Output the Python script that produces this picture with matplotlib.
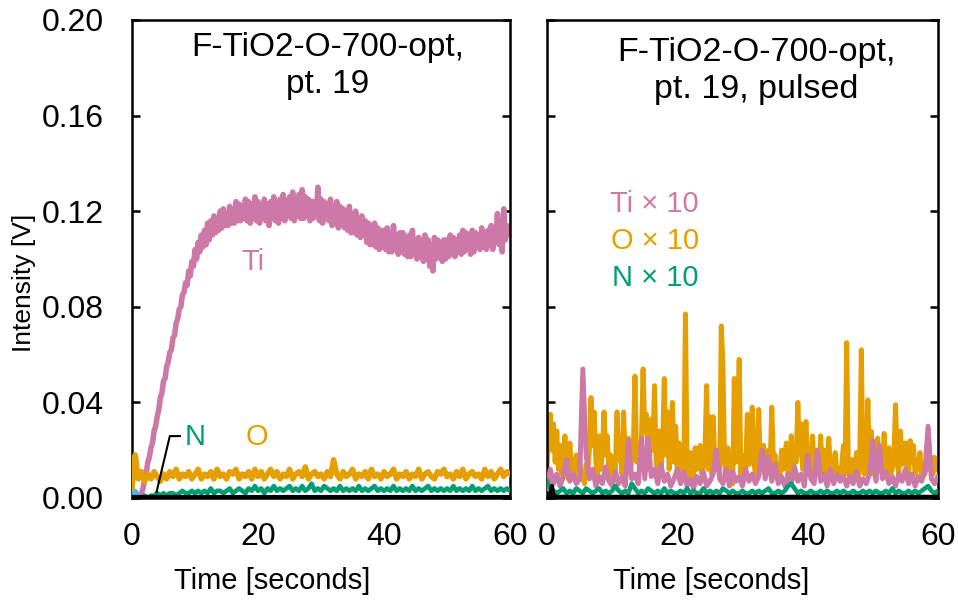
import numpy as np
import matplotlib
matplotlib.use("Agg")
import matplotlib.pyplot as plt

plt.rcParams['font.family'] = ['Liberation Sans', 'DejaVu Sans']

# ---- data ----
# left panel, continuous run
ti_step = 0.25
ti_cont = [
    0.001, 0.000, 0.001, 0.000,  0.001, 0.000, 0.002, 0.004,
    0.008, 0.010, 0.015, 0.017,  0.021, 0.023, 0.028, 0.030,
    0.034, 0.037, 0.042, 0.044,  0.049, 0.050, 0.055, 0.057,
    0.061, 0.062, 0.067, 0.068,  0.073, 0.075, 0.079, 0.080,
    0.085, 0.086, 0.090, 0.089,  0.095, 0.093, 0.099, 0.097,
    0.104, 0.100, 0.107, 0.103,  0.110, 0.105, 0.112, 0.106,
    0.115, 0.108, 0.116, 0.110,  0.118, 0.111, 0.117, 0.112,
    0.120, 0.113, 0.121, 0.114,  0.119, 0.114, 0.122, 0.115,
    0.121, 0.115, 0.124, 0.116,  0.123, 0.116, 0.122, 0.117,
    0.125, 0.116, 0.124, 0.115,  0.123, 0.117, 0.126, 0.116,
    0.124, 0.115, 0.122, 0.117,  0.125, 0.116, 0.123, 0.114,
    0.124, 0.117, 0.126, 0.116,  0.123, 0.115, 0.125, 0.117,
    0.127, 0.116, 0.124, 0.118,  0.126, 0.117, 0.128, 0.116,
    0.125, 0.118, 0.127, 0.117,  0.129, 0.117, 0.126, 0.118,
    0.125, 0.116, 0.124, 0.117,  0.124, 0.118, 0.130, 0.116,
    0.125, 0.115, 0.124, 0.117,  0.123, 0.116, 0.125, 0.114,
    0.122, 0.115, 0.124, 0.113,  0.122, 0.114, 0.121, 0.113,
    0.120, 0.112, 0.122, 0.111,  0.119, 0.111, 0.120, 0.110,
    0.117, 0.109, 0.118, 0.110,  0.116, 0.107, 0.115, 0.106,
    0.114, 0.106, 0.115, 0.105,  0.113, 0.104, 0.112, 0.105,
    0.112, 0.104, 0.113, 0.103,  0.111, 0.103, 0.114, 0.104,
    0.110, 0.102, 0.111, 0.103,  0.111, 0.102, 0.109, 0.101,
    0.110, 0.101, 0.112, 0.102,  0.108, 0.100, 0.109, 0.101,
    0.107, 0.099, 0.110, 0.100,  0.108, 0.097, 0.106, 0.095,
    0.109, 0.100, 0.108, 0.101,  0.107, 0.099, 0.108, 0.100,
    0.108, 0.101, 0.110, 0.102,  0.109, 0.101, 0.108, 0.103,
    0.110, 0.102, 0.112, 0.103,  0.111, 0.104, 0.110, 0.102,
    0.112, 0.103, 0.111, 0.105,  0.110, 0.104, 0.113, 0.105,
    0.111, 0.104, 0.112, 0.106,  0.114, 0.104, 0.112, 0.107,
    0.119, 0.106, 0.116, 0.103,  0.121, 0.108, 0.114, 0.110,
    0.113,
]

on_step = 0.5
o_cont = [
    0.004, 0.018, 0.008, 0.011, 0.007, 0.010, 0.008, 0.011, 0.009, 0.007,
    0.010, 0.008, 0.011, 0.009, 0.012, 0.008, 0.010, 0.009, 0.011, 0.008,
    0.010, 0.012, 0.008, 0.010, 0.009, 0.011, 0.008, 0.012, 0.009, 0.010,
    0.008, 0.011, 0.010, 0.012, 0.008, 0.010, 0.009, 0.011, 0.008, 0.012,
    0.009, 0.011, 0.008, 0.010, 0.012, 0.009, 0.011, 0.008, 0.010, 0.009,
    0.012, 0.008, 0.010, 0.011, 0.009, 0.013, 0.008, 0.010, 0.011, 0.009,
    0.010, 0.008, 0.011, 0.009, 0.016, 0.010, 0.008, 0.011, 0.009, 0.010,
    0.012, 0.008, 0.010, 0.009, 0.011, 0.008, 0.012, 0.009, 0.010, 0.008,
    0.011, 0.009, 0.010, 0.012, 0.008, 0.010, 0.009, 0.011, 0.008, 0.010,
    0.009, 0.012, 0.008, 0.010, 0.011, 0.009, 0.008, 0.011, 0.010, 0.012,
    0.009, 0.010, 0.008, 0.011, 0.009, 0.012, 0.008, 0.010, 0.011, 0.009,
    0.010, 0.008, 0.012, 0.009, 0.011, 0.008, 0.010, 0.012, 0.009, 0.011,
    0.010,
]
n_cont = [
    0.000, 0.001, 0.000, 0.000, 0.001, 0.000, 0.001, 0.001, 0.002, 0.001,
    0.002, 0.001, 0.002, 0.002, 0.001, 0.002, 0.003, 0.002, 0.002, 0.003,
    0.002, 0.003, 0.002, 0.003, 0.002, 0.004, 0.002, 0.003, 0.003, 0.002,
    0.003, 0.004, 0.002, 0.003, 0.004, 0.003, 0.002, 0.004, 0.003, 0.005,
    0.003, 0.004, 0.002, 0.004, 0.003, 0.005, 0.003, 0.004, 0.003, 0.004,
    0.005, 0.003, 0.004, 0.003, 0.005, 0.003, 0.004, 0.006, 0.003, 0.004,
    0.003, 0.005, 0.004, 0.003, 0.004, 0.003, 0.005, 0.003, 0.004, 0.003,
    0.004, 0.003, 0.005, 0.003, 0.004, 0.003, 0.004, 0.005, 0.003, 0.004,
    0.003, 0.004, 0.003, 0.005, 0.003, 0.004, 0.003, 0.004, 0.003, 0.005,
    0.003, 0.004, 0.003, 0.004, 0.005, 0.003, 0.004, 0.003, 0.004, 0.003,
    0.004, 0.003, 0.005, 0.003, 0.004, 0.003, 0.004, 0.003, 0.005, 0.003,
    0.004, 0.003, 0.004, 0.005, 0.003, 0.004, 0.003, 0.004, 0.003, 0.004,
    0.003,
]
blue_t = [0.0, 0.5, 1.0, 1.5]
blue_cont = [0.001, 0.003, 0.001, 0.000]
black_t = [0.0, 60.0]
black_cont = [0.0005, 0.0005]

# right panel, pulsed run (Ti, O, N scaled x10)
o_step = 0.25
o_pulsed = [
    0.012, 0.030, 0.035, 0.020,  0.031, 0.015, 0.028, 0.012,
    0.022, 0.010, 0.018, 0.026,  0.015, 0.008, 0.023, 0.012,
    0.016, 0.009, 0.018, 0.012,  0.017, 0.008, 0.010, 0.006,
    0.014, 0.010, 0.020, 0.042,  0.022, 0.036, 0.015, 0.010,
    0.026, 0.012, 0.020, 0.036,  0.018, 0.026, 0.010, 0.018,
    0.009, 0.015, 0.012, 0.036,  0.016, 0.022, 0.010, 0.036,
    0.018, 0.012, 0.025, 0.010,  0.016, 0.020, 0.051, 0.015,
    0.022, 0.012, 0.025, 0.054,  0.028, 0.035, 0.012, 0.018,
    0.033, 0.020, 0.047, 0.015,  0.010, 0.028, 0.012, 0.022,
    0.050, 0.018, 0.036, 0.012,  0.022, 0.040, 0.015, 0.030,
    0.012, 0.023, 0.008, 0.015,  0.010, 0.077, 0.012, 0.006,
    0.019, 0.008, 0.010, 0.021,  0.012, 0.015, 0.022, 0.010,
    0.014, 0.020, 0.047, 0.012,  0.034, 0.010, 0.034, 0.015,
    0.012, 0.020, 0.010, 0.072,  0.056, 0.015, 0.010, 0.021,
    0.008, 0.012, 0.006, 0.050,  0.015, 0.022, 0.058, 0.010,
    0.018, 0.008, 0.012, 0.035,  0.014, 0.020, 0.038, 0.015,
    0.010, 0.022, 0.037, 0.012,  0.018, 0.022, 0.010, 0.015,
    0.020, 0.012, 0.038, 0.015,  0.018, 0.010, 0.014, 0.008,
    0.020, 0.012, 0.018, 0.023,  0.010, 0.015, 0.026, 0.012,
    0.020, 0.015, 0.040, 0.018,  0.031, 0.012, 0.020, 0.032,
    0.014, 0.018, 0.010, 0.026,  0.012, 0.020, 0.015, 0.010,
    0.026, 0.012, 0.020, 0.010,  0.014, 0.025, 0.012, 0.008,
    0.015, 0.019, 0.010, 0.012,  0.008, 0.014, 0.022, 0.010,
    0.065, 0.012, 0.008, 0.016,  0.010, 0.012, 0.019, 0.008,
    0.015, 0.062, 0.012, 0.010,  0.015, 0.041, 0.012, 0.028,
    0.010, 0.015, 0.008, 0.025,  0.012, 0.016, 0.010, 0.027,
    0.012, 0.016, 0.021, 0.010,  0.012, 0.018, 0.039, 0.015,
    0.010, 0.028, 0.014, 0.020,  0.023, 0.012, 0.010, 0.024,
    0.015, 0.022, 0.010, 0.016,  0.012, 0.019, 0.008, 0.014,
    0.010, 0.016, 0.012, 0.018,  0.012, 0.010, 0.017, 0.015,
    0.012,
]
tin_step = 0.5
ti_pulsed = [
    0.004, 0.012, 0.006, 0.010, 0.005, 0.009, 0.016, 0.007, 0.010, 0.006,
    0.008, 0.054, 0.018, 0.008, 0.012, 0.005, 0.009, 0.006, 0.013, 0.007,
    0.005, 0.011, 0.006, 0.009, 0.005, 0.024, 0.008, 0.010, 0.006, 0.025,
    0.008, 0.025, 0.009, 0.012, 0.006, 0.014, 0.007, 0.010, 0.005, 0.008,
    0.012, 0.006, 0.011, 0.005, 0.008, 0.004, 0.009, 0.006, 0.011, 0.005,
    0.007, 0.010, 0.020, 0.008, 0.006, 0.012, 0.005, 0.011, 0.007, 0.009,
    0.005, 0.012, 0.007, 0.010, 0.006, 0.009, 0.020, 0.008, 0.017, 0.007,
    0.014, 0.006, 0.009, 0.005, 0.010, 0.006, 0.013, 0.007, 0.010, 0.005,
    0.018, 0.008, 0.006, 0.020, 0.007, 0.010, 0.005, 0.012, 0.006, 0.010,
    0.007, 0.009, 0.005, 0.009, 0.006, 0.011, 0.005, 0.008, 0.006, 0.010,
    0.024, 0.007, 0.022, 0.008, 0.011, 0.006, 0.009, 0.005, 0.010, 0.007,
    0.012, 0.006, 0.010, 0.005, 0.009, 0.007, 0.011, 0.030, 0.008, 0.006,
    0.009,
]
n_pulsed = [
    0.007, 0.004, 0.003, 0.002, 0.003, 0.004, 0.002, 0.003, 0.002, 0.004,
    0.003, 0.002, 0.004, 0.003, 0.002, 0.003, 0.004, 0.002, 0.003, 0.002,
    0.003, 0.005, 0.003, 0.002, 0.003, 0.002, 0.006, 0.004, 0.002, 0.003,
    0.002, 0.004, 0.003, 0.002, 0.003, 0.002, 0.004, 0.002, 0.003, 0.002,
    0.002, 0.003, 0.002, 0.004, 0.002, 0.003, 0.002, 0.002, 0.004, 0.002,
    0.003, 0.002, 0.003, 0.002, 0.004, 0.003, 0.002, 0.003, 0.002, 0.002,
    0.003, 0.002, 0.002, 0.003, 0.002, 0.003, 0.002, 0.003, 0.004, 0.002,
    0.002, 0.003, 0.002, 0.003, 0.005, 0.006, 0.004, 0.002, 0.003, 0.002,
    0.002, 0.003, 0.002, 0.002, 0.003, 0.002, 0.003, 0.002, 0.002, 0.003,
    0.002, 0.003, 0.002, 0.002, 0.003, 0.002, 0.002, 0.003, 0.002, 0.003,
    0.002, 0.003, 0.002, 0.002, 0.003, 0.002, 0.004, 0.002, 0.003, 0.002,
    0.002, 0.003, 0.002, 0.003, 0.002, 0.003, 0.004, 0.005, 0.003, 0.002,
    0.003,
]
black_pt = [0.0, 0.5, 0.75, 1.0, 1.5, 60.0]
black_pulsed = [0.0005, 0.001, 0.005, 0.001, 0.0005, 0.0005]

# colours
PINK = '#CC79A7'
ORANGE = '#E69F00'
GREEN = '#009E73'
BLUE = '#56B4E9'

yticks = [0.00, 0.04, 0.08, 0.12, 0.16, 0.20]
xticks = [0, 20, 40, 60]


def times(vals, step):
    return np.arange(len(vals)) * step


fig = plt.figure(figsize=(9.58, 6.04), dpi=100)
ax1 = fig.add_axes([0.1378, 0.1755, 0.3946, 0.7914])
ax2 = fig.add_axes([0.571, 0.1755, 0.408, 0.7914])

lw_l = 4.0
lw_r = 3.6
# left: continuous
ax1.plot(times(ti_cont, ti_step), ti_cont, color=PINK, lw=lw_l, zorder=2)
ax1.plot(times(o_cont, on_step), o_cont, color=ORANGE, lw=lw_l, zorder=3)
ax1.plot(times(n_cont, on_step), n_cont, color=GREEN, lw=3.3, zorder=4)
ax1.plot(blue_t, blue_cont, color=BLUE, lw=3.3, zorder=4)
ax1.plot(black_t, black_cont, color='black', lw=3.0, zorder=5)

# right: pulsed
ax2.plot(times(o_pulsed, o_step), o_pulsed, color=ORANGE, lw=lw_r, zorder=2)
ax2.plot(times(ti_pulsed, tin_step), ti_pulsed, color=PINK, lw=lw_r, zorder=3)
ax2.plot(times(n_pulsed, tin_step), n_pulsed, color=GREEN, lw=3.3, zorder=4)
ax2.plot(black_pt, black_pulsed, color='black', lw=3.0, zorder=5)

fs = 21
tfs = 23
for ax in (ax1, ax2):
    ax.set_xlim(0, 60)
    ax.set_ylim(0, 0.20)
    ax.set_xticks(xticks)
    ax.set_yticks(yticks)
    for sp in ax.spines.values():
        sp.set_linewidth(1.8)
    ax.tick_params(axis='y', direction='in', length=6, width=1.8,
                   left=True, right=True, labelsize=tfs, pad=20)
    ax.tick_params(axis='x', length=0, labelsize=tfs, pad=17)
    ax.set_xlabel('Time [seconds]', fontsize=fs, labelpad=16)

ax1.xaxis.set_label_coords(0.37, -0.145)
ax2.xaxis.set_label_coords(0.42, -0.145)
ax1.set_yticklabels([f'{v:.2f}' for v in yticks])
ax2.tick_params(axis='y', labelleft=False)
ax1.set_ylabel('Intensity [V]', fontsize=19)
ax1.yaxis.set_label_coords(-0.255, 0.45)

# in-panel titles
ax1.text(0.517, 0.975, 'F-TiO2-O-700-opt,\npt. 19', transform=ax1.transAxes,
         ha='center', va='top', fontsize=24, linespacing=1.25)
ax2.text(0.536, 0.965, 'F-TiO2-O-700-opt,\npt. 19, pulsed', transform=ax2.transAxes,
         ha='center', va='top', fontsize=24.5, linespacing=1.25)

# direct labels, left panel
ax1.text(19.2, 0.0987, 'Ti', color=PINK, fontsize=fs, ha='center', va='center')
ax1.text(10.0, 0.0255, 'N', color=GREEN, fontsize=fs, ha='center', va='center')
ax1.text(19.8, 0.0255, 'O', color=ORANGE, fontsize=fs, ha='center', va='center')
ax1.plot([7.6, 6.0, 3.9], [0.0259, 0.0259, 0.0026], color='black', lw=1.5, zorder=6)

# direct labels, right panel
ax2.text(9.7, 0.123, 'Ti × 10', color=PINK, fontsize=fs, ha='left', va='center')
ax2.text(9.8, 0.1074, 'O × 10', color=ORANGE, fontsize=fs, ha='left', va='center')
ax2.text(10.0, 0.0922, 'N × 10', color=GREEN, fontsize=fs, ha='left', va='center')

fig.savefig('out.png', dpi=100)
